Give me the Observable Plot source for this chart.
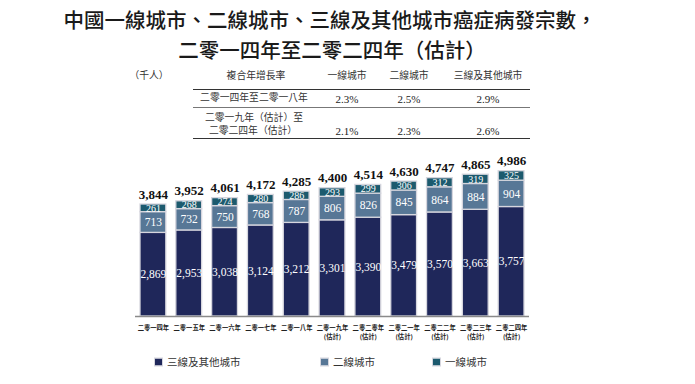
<!DOCTYPE html>
<html>
<head>
<meta charset="utf-8">
<script src="https://cdn.jsdelivr.net/npm/d3@7"></script>
<script src="https://cdn.jsdelivr.net/npm/@observablehq/plot@0.6"></script>
<style>
  html, body { margin: 0; padding: 0; background: #fff; }
  #wrap { position: relative; width: 695px; height: 384px; overflow: hidden; }
  #wrap svg { position: absolute; left: 0; top: 0; }
  .abs { position: absolute; white-space: nowrap; line-height: 1; }
  .c { transform: translate(-50%, -50%); }
  .l { transform: translate(0, -50%); }
  .title { font-family: "Noto Sans CJK TC", sans-serif; font-size: 20.5px; font-weight: 500; color: #1a1a1a; }
  .th { font-family: "Noto Sans CJK TC", sans-serif; font-size: 9.8px; color: #333; }
  .num { font-family: "Liberation Serif", serif; font-size: 11px; color: #222; }
  .hline { position: absolute; height: 0; }
  .lg { font-family: "Noto Sans CJK TC", sans-serif; font-size: 10.5px; color: #333; }
  .sw { position: absolute; width: 7px; height: 7px; transform: translate(0, -50%); }
</style>
</head>
<body>
<div id="wrap"></div>
<script>
// ---- data ----
const years = ["二零一四年","二零一五年","二零一六年","二零一七年","二零一八年","二零一九年","二零二零年","二零二一年","二零二二年","二零二三年","二零二四年"];
const estimated = [false,false,false,false,false,true,true,true,true,true,true];
const tier1 = [261,268,274,280,286,293,299,306,312,319,325];
const tier2 = [713,732,750,768,787,806,826,845,864,884,904];
const tier3 = [2869,2953,3038,3124,3212,3301,3390,3479,3570,3663,3757];
const totals = [3844,3952,4061,4172,4285,4400,4514,4630,4747,4865,4986];
const tiers = ["三線及其他城市","二線城市","一線城市"];
const colors = ["#1f275a","#577796","#1c5a6e"];
const tableCols = ["一線城市","二線城市","三線及其他城市"];
const cagr1418 = ["2.3%","2.5%","2.9%"];
const cagr1924 = ["2.1%","2.3%","2.6%"];

const fmt = d3.format(",");
const rows = years.flatMap((yr, i) => [
  {year: yr, tier: tiers[0], y1: 0, y2: tier3[i], v: tier3[i]},
  {year: yr, tier: tiers[1], y1: tier3[i], y2: tier3[i] + tier2[i], v: tier2[i]},
  {year: yr, tier: tiers[2], y1: tier3[i] + tier2[i], y2: tier3[i] + tier2[i] + tier1[i], v: tier1[i]}
]);
const tops = years.map((yr, i) => ({year: yr, total: totals[i], top: tier3[i] + tier2[i] + tier1[i]}));
const labelOf = new Map(years.map((y, i) => [y, estimated[i] ? y + "\n(估計)" : y]));
const mid = d => (d.y1 + d.y2) / 2;

const chart = Plot.plot({
  width: 695,
  height: 384,
  marginLeft: 135,
  marginRight: 166,
  marginBottom: 68,
  marginTop: 170.3,
  style: {background: "transparent"},
  x: {domain: years, padding: 0, round: false},
  y: {domain: [0, 5000], axis: null},
  color: {domain: tiers, range: colors},
  marks: [
    Plot.barY(rows, {x: "year", y1: "y1", y2: "y2", fill: "tier", stroke: "#d6d6de", strokeWidth: 1.3, insetLeft: 5, insetRight: 5}),
    Plot.ruleY([0], {stroke: "#8a8a8a", strokeWidth: 1.6}),
    Plot.text(rows.filter(d => d.tier !== tiers[2]), {x: "year", y: mid, text: d => fmt(d.v), fill: "white", fontSize: 11.5, fontFamily: "Liberation Serif, serif"}),
    Plot.text(rows.filter(d => d.tier === tiers[2]), {x: "year", y: mid, text: d => fmt(d.v), fill: "white", fontSize: 10, fontFamily: "Liberation Serif, serif"}),
    Plot.text(tops, {x: "year", y: "top", dy: -10, text: d => fmt(d.total), fill: "#111", fontSize: 13, fontWeight: "bold", fontFamily: "Liberation Serif, serif"}),
    Plot.axisX({tickSize: 0, tickPadding: 7, tickFormat: d => labelOf.get(d), fontSize: 6.3, fontWeight: "bold", fontFamily: "Noto Sans CJK TC, sans-serif", fill: "#222", lineHeight: 1.4, label: null})
  ]
});

const wrap = document.getElementById("wrap");
wrap.appendChild(chart);

function addText(txt, x, y, cls, anchor = "c") {
  const el = document.createElement("div");
  el.className = "abs " + anchor + " " + cls;
  el.textContent = txt;
  el.style.left = x + "px";
  el.style.top = y + "px";
  wrap.appendChild(el);
  return el;
}
function addLine(x1, x2, y, w, color) {
  const el = document.createElement("div");
  el.className = "hline";
  el.style.left = x1 + "px";
  el.style.width = (x2 - x1) + "px";
  el.style.top = (y - w / 2) + "px";
  el.style.borderTop = w + "px solid " + color;
  wrap.appendChild(el);
}

// title
addText("中國一線城市、二線城市、三線及其他城市癌症病發宗數，", 330, 19, "title");
addText("二零一四年至二零二四年（估計）", 332, 49, "title");

// table
const colX = [347, 409, 488];
addText("（千人）", 149, 76, "th");
addText("複合年增長率", 256, 76, "th");
tableCols.forEach((c, i) => addText(c, colX[i], 76, "th"));
addLine(193, 530, 89.3, 1.5, "#333");
addLine(193, 530, 107.7, 0.8, "#777");
addLine(193, 530, 138.3, 1.5, "#333");
addText("二零一四年至二零一八年", 254, 98, "th");
cagr1418.forEach((v, i) => addText(v, colX[i], 98.5, "num"));
addText("二零一九年（估計）至", 254, 118, "th");
addText("二零二四年（估計）", 253, 130.5, "th");
cagr1924.forEach((v, i) => addText(v, colX[i], 130.5, "num"));

// legend
const lgX = [155, 321, 433];
tiers.forEach((t, i) => {
  const sw = document.createElement("div");
  sw.className = "sw";
  sw.style.left = lgX[i] + "px";
  sw.style.top = "362px";
  sw.style.background = colors[i];
  sw.style.outline = "1px solid #d6d6de";
  wrap.appendChild(sw);
  addText(t, lgX[i] + 12, 362, "lg", "l");
});
</script>
</body>
</html>
